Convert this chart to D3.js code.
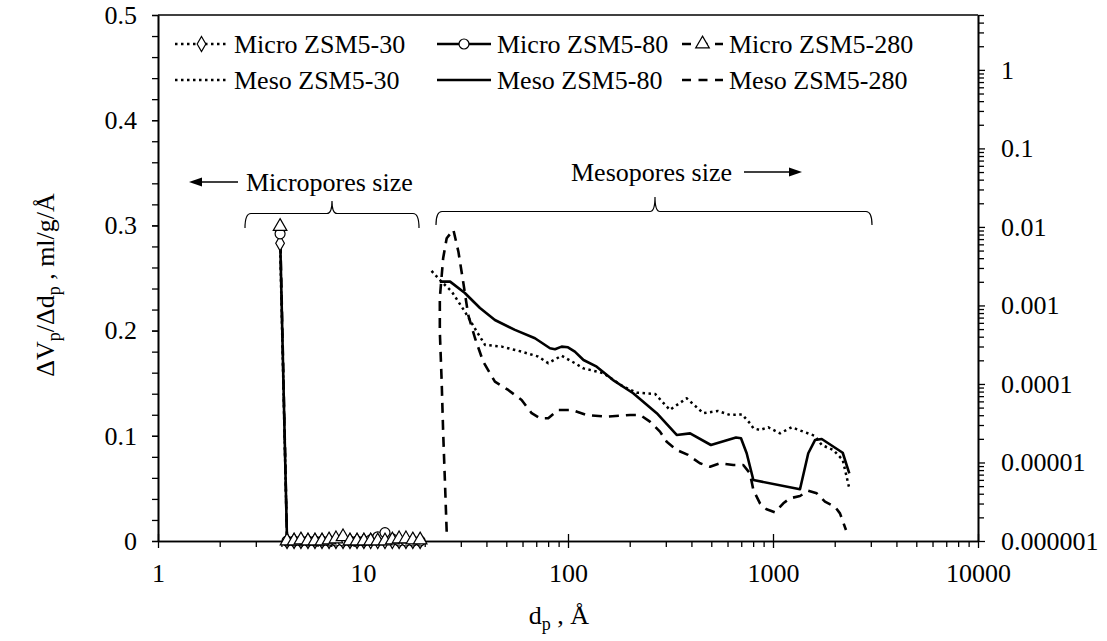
<!DOCTYPE html>
<html>
<head>
<meta charset="utf-8">
<script src="https://cdn.jsdelivr.net/npm/d3@7"></script>
<style>
  html, body { margin: 0; padding: 0; background: #fff; }
  svg { display: block; }
  text { font-family: "Liberation Serif", "Times New Roman", serif; fill: #000; }
</style>
</head>
<body>
<svg id="chart" width="1107" height="641"></svg>
<script>
// Pore diameter (Å) for the micropore (HK) distributions
const microD = [3.94, 4.26, 4.61, 4.98, 5.39, 5.83, 6.31, 6.83, 7.38, 7.99, 8.64,
                9.35, 10.1, 10.9, 11.8, 12.8, 13.9, 15.0, 16.2, 17.5, 19.0];
// ΔVp/Δdp (ml/g/Å), left axis
const microZSM5_30  = [0.283, 0, 0, 0, 0, 0, 0, 0, 0, 0, 0, 0, 0, 0, 0, 0, 0, 0, 0, 0, 0];
const microZSM5_80  = [0.292, 0, 0, 0, 0, 0, 0, 0, 0, 0, 0, 0, 0, 0.001, 0.004, 0.008, 0.002, 0, 0, 0, 0];
const microZSM5_280 = [0.299, 0, 0, 0.001, 0, 0, 0, 0.001, 0.002, 0.004, 0, 0, 0, 0, 0, 0, 0.001, 0.002, 0.002, 0.001, 0.001];

// Mesopore (BJH) distributions, right log axis
const mesoD30 = [21.6, 23.7, 27.1, 31.4, 35.9, 39.4, 47.5, 59.4, 71.6, 80.1, 93.1, 108, 119, 149,
                 186, 216, 266, 314, 379, 457, 539, 617, 706, 772, 802, 864, 948, 1082, 1233,
                 1406, 1603, 1729, 1968, 2188, 2356];
const mesoZSM5_30 = [2.75e-3, 2.11e-3, 1.50e-3, 8.34e-4, 4.64e-4, 3.14e-4, 2.99e-4, 2.58e-4, 2.23e-4,
                     1.84e-4, 2.29e-4, 1.84e-4, 1.58e-4, 1.37e-4, 9.24e-5, 7.75e-5, 7.46e-5, 4.67e-5,
                     6.58e-5, 4.24e-5, 4.53e-5, 4.03e-5, 4.09e-5, 3.16e-5, 2.73e-5, 2.59e-5, 2.81e-5,
                     2.35e-5, 2.81e-5, 2.47e-5, 2.18e-5, 1.67e-5, 1.44e-5, 1.08e-5, 4.69e-6];

const mesoD80 = [23.7, 26.6, 31.4, 37.2, 44.0, 55.1, 69.0, 81.7, 86.4, 93.1, 100, 108, 119, 138,
                 166, 208, 271, 339, 394, 498, 660, 698, 744, 802, 1354, 1486, 1603, 1729, 2188, 2356];
const mesoZSM5_80 = [2.01e-3, 2.01e-3, 1.44e-3, 9.29e-4, 6.53e-4, 4.88e-4, 3.82e-4, 2.85e-4, 2.77e-4,
                     2.99e-4, 2.93e-4, 2.58e-4, 2.02e-4, 1.66e-4, 1.12e-4, 7.61e-5, 4.24e-5, 2.24e-5,
                     2.35e-5, 1.67e-5, 2.08e-5, 2.03e-5, 1.31e-5, 5.98e-6, 4.56e-6, 1.31e-5, 1.93e-5,
                     1.99e-5, 1.33e-5, 7.28e-6];

const mesoD280 = [25.6, 25.1, 24.6, 24.2, 23.7, 23.7, 24.6, 25.6, 27.6, 29.2, 30.8, 32.6, 35.2, 38.6,
                  44.0, 51.1, 59.4, 66.5, 73.0, 80.1, 89.7, 104, 123, 154, 201, 225, 251, 281, 303,
                  339, 385, 440, 493, 551, 640, 716, 772, 802, 864, 931, 1023, 1123, 1211, 1354,
                  1486, 1634, 1793, 2006, 2122, 2270];
const mesoZSM5_280 = [1.31e-6, 5.69e-6, 2.47e-5, 1.07e-4, 4.64e-4, 1.24e-3, 3.99e-3, 7.18e-3, 9.16e-3,
                      4.84e-3, 2.01e-3, 7.57e-4, 3.82e-4, 1.92e-4, 1.07e-4, 8.39e-5, 6.25e-5, 4.24e-5,
                      3.66e-5, 3.66e-5, 4.67e-5, 4.67e-5, 4.03e-5, 3.83e-5, 4.03e-5, 4.03e-5, 3.31e-5,
                      2.47e-5, 1.84e-5, 1.44e-5, 1.25e-5, 9.77e-6, 8.84e-6, 9.77e-6, 9.29e-6, 9.29e-6,
                      7.28e-6, 4.47e-6, 3.02e-6, 2.53e-6, 2.32e-6, 3.02e-6, 3.50e-6, 3.74e-6, 4.37e-6,
                      4.05e-6, 3.17e-6, 2.73e-6, 2.25e-6, 1.38e-6];

// Axis ticks
const xTicks = [1, 10, 100, 1000, 10000];
const xTickLabels = ["1", "10", "100", "1000", "10000"];
const yLeftTicks = [0, 0.1, 0.2, 0.3, 0.4, 0.5];
const yLeftTickLabels = ["0", "0.1", "0.2", "0.3", "0.4", "0.5"];
const yRightTicks = [1e-6, 1e-5, 1e-4, 1e-3, 1e-2, 1e-1, 1];
const yRightTickLabels = ["0.000001", "0.00001", "0.0001", "0.001", "0.01", "0.1", "1"];

const seriesNames = ["Micro ZSM5-30", "Micro ZSM5-80", "Micro ZSM5-280",
                     "Meso ZSM5-30", "Meso ZSM5-80", "Meso ZSM5-280"];

const svg = d3.select("#chart");
const L = 158, R = 978, T = 15, B = 541;
const FS = 26;

const x = d3.scaleLog().domain([1, 10000]).range([L, R]);
const yL = d3.scaleLinear().domain([0, 0.5]).range([B, T]);
const yR = d3.scaleLog().domain([1e-6, 5]).range([B, T]);

const DOT = "2.5,3.5", DASH = "10,7";

// ---- axes ----
const minorX = [];
for (let e = 0; e < 4; e++) for (let k = 2; k <= 9; k++) minorX.push(k * Math.pow(10, e));
const minorYR = [];
for (let e = -6; e <= 0; e++) for (let k = 2; k <= 9; k++) {
  const v = k * Math.pow(10, e);
  if (v <= 5) minorYR.push(v);
}
const minorYL = d3.range(0, 0.5001, 0.02);

const axisStyle = g => {
  g.selectAll(".domain").attr("stroke", "#000").attr("stroke-width", 1.6);
  g.selectAll(".tick line").attr("stroke", "#000").attr("stroke-width", 1.3);
  g.selectAll("text").attr("font-size", FS).attr("font-family", "Liberation Serif, serif").attr("fill", "#000");
};

// bottom axis: minor ticks outside, major ticks crossing
svg.append("g").attr("transform", `translate(0,${B})`)
  .call(d3.axisBottom(x).tickValues(minorX).tickSize(6).tickFormat("").tickSizeOuter(0))
  .call(axisStyle);
const gx = svg.append("g").attr("transform", `translate(0,${B})`)
  .call(d3.axisBottom(x).tickValues(xTicks).tickSize(7).tickSizeOuter(0)
    .tickFormat((d, i) => xTickLabels[i]))
  .call(axisStyle);
gx.selectAll(".tick line").attr("y1", -7);
gx.selectAll(".tick text").attr("dy", null).attr("y", 41);

// left axis
svg.append("g").attr("transform", `translate(${L},0)`)
  .call(d3.axisLeft(yL).tickValues(minorYL).tickSize(6).tickFormat("").tickSizeOuter(0))
  .call(axisStyle);
svg.append("g").attr("transform", `translate(${L},0)`)
  .call(d3.axisLeft(yL).tickValues(yLeftTicks).tickSize(6).tickPadding(15).tickSizeOuter(0)
    .tickFormat((d, i) => yLeftTickLabels[i]))
  .call(axisStyle);

// right log axis
svg.append("g").attr("transform", `translate(${R},0)`)
  .call(d3.axisRight(yR).tickValues(minorYR).tickSize(6).tickFormat("").tickSizeOuter(0))
  .call(axisStyle);
svg.append("g").attr("transform", `translate(${R},0)`)
  .call(d3.axisRight(yR).tickValues(yRightTicks).tickSize(7).tickPadding(16).tickSizeOuter(0)
    .tickFormat((d, i) => yRightTickLabels[i]))
  .call(axisStyle);

// top frame line
svg.append("line").attr("x1", L).attr("x2", R).attr("y1", T).attr("y2", T)
  .attr("stroke", "#000").attr("stroke-width", 1.6);

// ---- axis titles ----
const yt = svg.append("text")
  .attr("transform", "translate(54,285) rotate(-90)")
  .attr("text-anchor", "middle").attr("font-size", FS);
yt.append("tspan").text("ΔV");
yt.append("tspan").attr("font-size", 18).attr("dy", 6).text("p");
yt.append("tspan").attr("dy", -6).text("/Δd");
yt.append("tspan").attr("font-size", 18).attr("dy", 6).text("p");
yt.append("tspan").attr("dy", -6).text(" , ml/g/Å");

const xt = svg.append("text").attr("x", 559).attr("y", 624)
  .attr("text-anchor", "middle").attr("font-size", FS);
xt.append("tspan").text("d");
xt.append("tspan").attr("font-size", 18).attr("dy", 6).text("p");
xt.append("tspan").attr("dy", -6).text(" , Å");

// ---- series ----
const plot = svg.append("g");
const lineL = d3.line().x(d => x(d[0])).y(d => yL(d[1]));
const lineR = d3.line().x(d => x(d[0])).y(d => yR(d[1]));

function drawLine(gen, xs, ys, dash, w) {
  plot.append("path").datum(xs.map((d, i) => [d, ys[i]]))
    .attr("d", gen).attr("fill", "none").attr("stroke", "#000")
    .attr("stroke-width", w).attr("stroke-dasharray", dash)
    .attr("stroke-linejoin", "round");
}

const symDiamond = d3.symbol().type(d3.symbolDiamond).size(65)();
const symCircle = d3.symbol().type(d3.symbolCircle).size(78)();
const symTriangle = d3.symbol().type(d3.symbolTriangle).size(80)();

function drawMarkers(xs, ys, sym, scaleY) {
  plot.append("g").selectAll("path").data(xs.map((d, i) => [d, ys[i]])).join("path")
    .attr("d", sym)
    .attr("transform", d => `translate(${x(d[0])},${scaleY(d[1])})`)
    .attr("fill", "#fff").attr("stroke", "#000").attr("stroke-width", 1.2);
}

drawLine(lineR, mesoD30, mesoZSM5_30, DOT, 2.5);
drawLine(lineR, mesoD80, mesoZSM5_80, null, 2.6);
drawLine(lineR, mesoD280, mesoZSM5_280, DASH, 2.6);

drawLine(lineL, microD, microZSM5_30, DOT, 2.5);
drawLine(lineL, microD, microZSM5_80, null, 2.6);
drawLine(lineL, microD, microZSM5_280, DASH, 2.6);
drawMarkers(microD, microZSM5_30, symDiamond, yL);
drawMarkers(microD, microZSM5_80, symCircle, yL);
drawMarkers(microD, microZSM5_280, symTriangle, yL);

// ---- legend ----
const legendItems = [
  { name: seriesNames[0], x0: 175, x1: 228, ty: 44, dash: DOT, sym: symDiamond },
  { name: seriesNames[1], x0: 437, x1: 491, ty: 44, dash: null, sym: symCircle },
  { name: seriesNames[2], x0: 682, x1: 723, ty: 44, dash: "9,7.5", sym: symTriangle },
  { name: seriesNames[3], x0: 175, x1: 228, ty: 80, dash: DOT, sym: null },
  { name: seriesNames[4], x0: 437, x1: 491, ty: 80, dash: null, sym: null },
  { name: seriesNames[5], x0: 682, x1: 723, ty: 80, dash: "9,7.5", sym: null }
];
const lg = svg.append("g");
legendItems.forEach(it => {
  lg.append("line").attr("x1", it.x0).attr("x2", it.x1).attr("y1", it.ty).attr("y2", it.ty)
    .attr("stroke", "#000").attr("stroke-width", 2.6).attr("stroke-dasharray", it.dash);
  if (it.sym) {
    lg.append("path").attr("d", it.sym)
      .attr("transform", `translate(${(it.x0 + it.x1) / 2},${it.ty})`)
      .attr("fill", "#fff").attr("stroke", "#000").attr("stroke-width", 1.2);
  }
  lg.append("text").attr("x", it.x1 + 6).attr("y", it.ty + 8.5)
    .attr("font-size", FS).text(it.name);
});

// ---- annotations: braces, arrows, labels ----
function brace(x0, x1, xm, yTop, yTip, yEnd) {
  return `M${x0},${yEnd} Q${x0},${yTop} ${x0 + 6},${yTop} L${xm - 5},${yTop} ` +
         `Q${xm},${yTop} ${xm},${yTip} Q${xm},${yTop} ${xm + 5},${yTop} ` +
         `L${x1 - 6},${yTop} Q${x1},${yTop} ${x1},${yEnd}`;
}
const ann = svg.append("g");
ann.append("path").attr("d", brace(245, 419, 332, 213.5, 201, 228))
  .attr("fill", "none").attr("stroke", "#000").attr("stroke-width", 1.2);
ann.append("path").attr("d", brace(436, 872, 655, 211.5, 197, 225))
  .attr("fill", "none").attr("stroke", "#000").attr("stroke-width", 1.2);

function arrow(xFrom, xTip, y) {
  const dir = Math.sign(xTip - xFrom);
  const base = xTip - dir * 13;
  ann.append("line").attr("x1", xFrom).attr("x2", base).attr("y1", y).attr("y2", y)
    .attr("stroke", "#000").attr("stroke-width", 1.3);
  ann.append("path").attr("d", `M${xTip},${y} L${base},${y - 4.5} L${base},${y + 4.5} Z`)
    .attr("fill", "#000");
}
arrow(238, 189, 182);
arrow(744, 802, 172);

ann.append("text").attr("x", 246).attr("y", 191).attr("font-size", FS).text("Micropores size");
ann.append("text").attr("x", 571).attr("y", 181).attr("font-size", FS).text("Mesopores size");
</script>
</body>
</html>
